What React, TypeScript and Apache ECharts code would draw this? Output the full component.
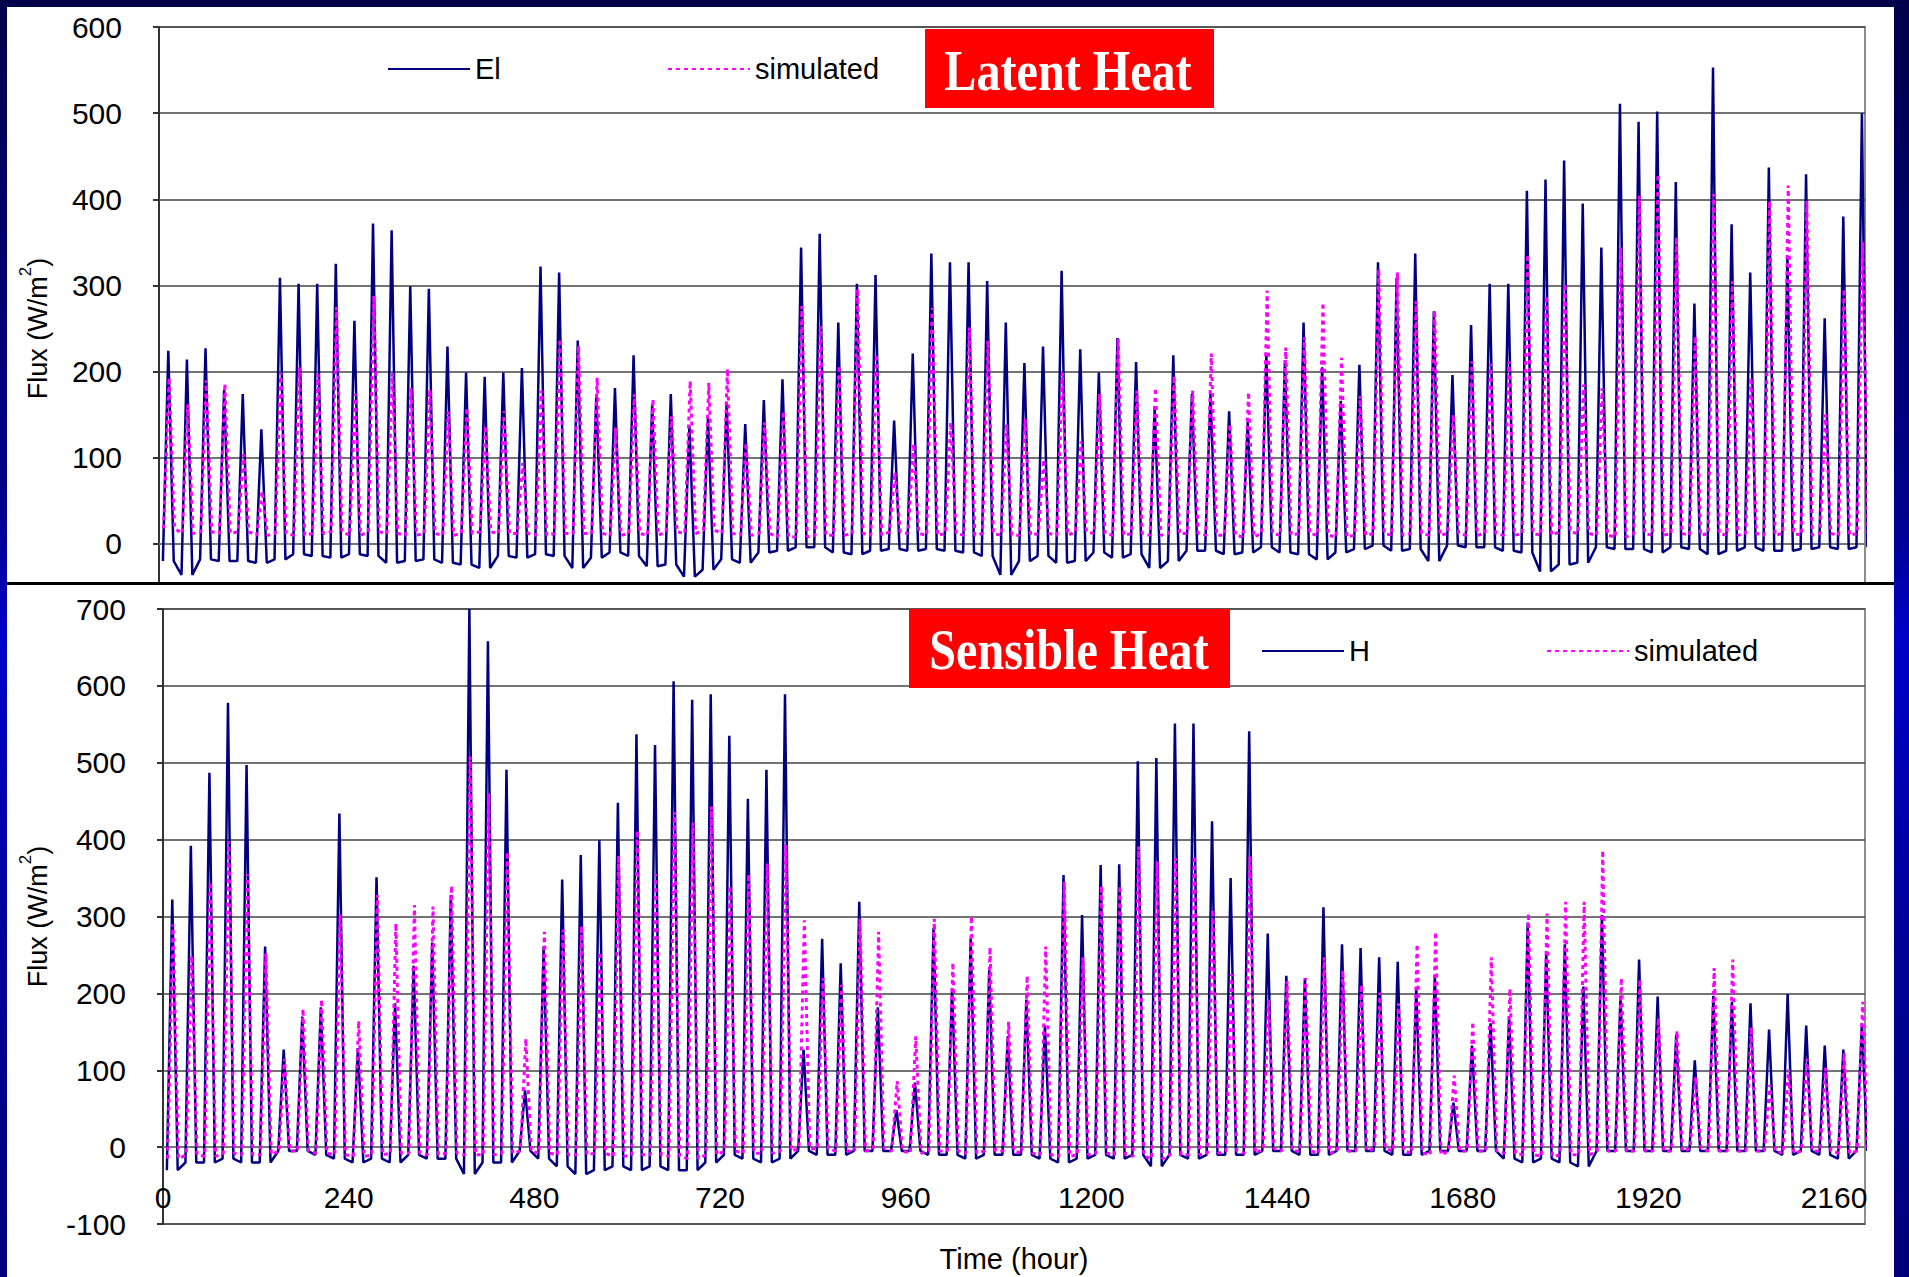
import React, { useEffect, useRef } from "react";
import * as echarts from "echarts";

// ---- data (one value per day) ----
// Latent heat: measured (El) and simulated daily peaks and night levels, W/m2
const elPeaks = [
  224, 214, 227, 179, 174, 133, 309, 302, 302, 325, 259, 372, 364, 299, 296, 229, 199, 194, 199, 204, 322, 315, 236,
  172, 181, 219, 162, 174, 137, 146, 164, 139, 167, 191, 344, 360, 257, 302, 312, 143, 221, 337, 327, 327, 305, 257,
  210, 229, 317, 226, 199, 239, 211, 159, 219, 174, 174, 154, 142, 219, 213, 257, 205, 166, 208, 327, 309, 337, 270,
  196, 254, 302, 302, 410, 423, 445, 395, 344, 511, 490, 502, 420, 279, 553, 371, 315, 437, 333, 429, 262, 380, 500,
];
const elNights = [
  -20, -36, -18, -20, -20, -22, -18, -12, -14, -16, -12, -14, -22, -20, -18, -22, -24, -28, -14, -16, -12, -14, -28,
  -16, -10, -14, -26, -24, -38, -30, -18, -22, -10, -8, -4, -4, -10, -12, -8, -6, -8, -6, -8, -10, -14, -36,
  -20, -14, -22, -20, -10, -16, -12, -28, -20, -8, -8, -12, -10, -4, -10, -12, -18, -10, -6, -2, -8, -6, -20,
  -2, -4, -4, -8, -10, -32, -24, -22, -4, -6, -6, -10, -4, -6, -12, -8, -4, -8, -8, -6, -4, -6, -4,
];
const leSimPeaks = [
  193, 162, 190, 186, 104, 61, 199, 205, 197, 275, 174, 288, 198, 181, 179, 154, 158, 137, 154, 94, 178, 238, 230,
  193, 135, 174, 168, 148, 189, 187, 203, 117, 141, 154, 276, 253, 207, 296, 220, 83, 116, 274, 141, 251, 236, 139,
  145, 98, 199, 119, 174, 238, 178, 181, 195, 178, 221, 139, 176, 294, 228, 240, 280, 216, 172, 319, 315, 282, 271,
  150, 212, 209, 212, 336, 288, 302, 185, 181, 344, 404, 429, 356, 241, 406, 305, 193, 398, 416, 398, 150, 296, 350,
];
const leSimNights = [
  18, 12, 14, 12, 14, 10, 12, 10, 12, 14, 10, 14, 12, 10, 12, 10, 12, 14, 12, 12, 10, 12, 12,
  12, 10, 12, 10, 14, 12, 16, 12, 10, 12, 8, 8, 10, 10, 12, 10, 14, 12, 10, 12, 10, 12, 10,
  10, 12, 10, 14, 12, 10, 12, 10, 12, 12, 10, 10, 8, 12, 10, 12, 10, 8, 10, 12, 10, 12, 10,
  12, 10, 12, 10, 12, 10, 14, 12, 10, 8, 12, 10, 12, 10, 12, 10, 12, 10, 12, 10, 12, 10, 12,
];
// Sensible heat: measured (H) and simulated
const hPeaks = [
  322, 392, 487, 578, 497, 261, 127, 170, 182, 434, 129, 351, 187, 236, 266, 328, 700, 658, 491, 74, 261, 348, 380,
  399, 448, 537, 523, 606, 582, 589, 535, 453, 491, 589, 127, 271, 239, 319, 182, 48, 84, 285, 206, 271, 230, 144,
  192, 158, 354, 302, 367, 368, 502, 506, 551, 551, 424, 350, 541, 278, 223, 220, 312, 264, 259, 247, 241, 206, 224,
  58, 132, 161, 170, 292, 254, 264, 209, 302, 197, 244, 196, 146, 113, 197, 189, 187, 153, 199, 158, 132, 127, 161,
];
const hNights = [
  -30, -20, -20, -15, -20, -20, -5, -5, -10, -15, -20, -15, -20, -10, -15, -15, -35, -20, -20, -5, -15, -25, -35,
  -30, -25, -30, -25, -30, -30, -20, -10, -15, -20, -15, -5, -10, -10, -5, -5, -5, -5, -10, -10, -15, -10, -10,
  -10, -15, -20, -15, -10, -15, -10, -25, -10, -15, -10, -10, -10, -5, -5, -10, -10, -5, -5, -5, -10, -10, -5,
  -5, -5, -5, -15, -20, -15, -20, -25, -5, -5, -5, -5, -5, -5, -5, -5, -5, -5, -10, -5, -10, -15, -5,
];
const hSimPeaks = [
  290, 249, 345, 398, 355, 252, 115, 180, 192, 303, 164, 328, 291, 315, 313, 340, 508, 460, 384, 141, 280, 283, 288,
  254, 379, 412, 355, 436, 422, 443, 340, 355, 369, 393, 295, 220, 211, 297, 280, 86, 144, 297, 240, 300, 260, 163,
  223, 261, 345, 247, 340, 340, 391, 372, 376, 379, 309, 225, 379, 192, 216, 220, 247, 230, 211, 201, 187, 264, 280,
  93, 163, 247, 206, 304, 304, 319, 319, 386, 220, 218, 168, 151, 91, 233, 244, 156, 81, 101, 115, 103, 122, 189,
];
const hSimNights = [
  -15, -10, -12, -8, -10, -10, -5, -5, -8, -10, -12, -10, -8, -8, -10, -8, -10, -10, -8, -5, -8, -10, -10,
  -8, -12, -10, -10, -12, -15, -10, -5, -8, -8, -5, -2, -2, -5, -5, -2, -5, -8, -5, -5, -8, -5, -5,
  -8, -10, -12, -10, -8, -10, -12, -15, -10, -10, -8, -5, -8, -2, -5, -5, -8, -5, -5, -2, -5, -8, -10,
  -5, -5, -5, -8, -10, -12, -10, -10, -5, -5, -5, -5, -5, -2, -5, -5, -5, -5, -8, -5, -5, -8, -5,
];
// hours of the day at which the night level ends, peak occurs, night level resumes
const dayHours = [5, 12, 19];

const FONT = "'Liberation Sans', Arial, sans-serif";
const SERIF = "'Liberation Serif', 'Times New Roman', serif";
const NAVY = "#000080";
const MAGENTA = "#ff00ff";
const Y_MIN = -100;

function buildSeries(peaks: number[], nights: number[], shift: number) {
  const out: number[][] = [];
  peaks.forEach((p, d) => {
    out.push([d * 24 + dayHours[0] + shift, nights[d]]);
    out.push([d * 24 + dayHours[1] + shift, p]);
    out.push([d * 24 + dayHours[2] + shift, nights[d]]);
  });
  return out;
}

function panelOption(o: {
  grid: any;
  height: number;
  yMax: number;
  showMinLabel: boolean;
  nameGap: number;
  showXName: boolean;
  obsName: string;
  obs: number[][];
  sim: number[][];
  legendTop: number;
  legendObsLeft: number;
  legendSimLeft: number;
  box: { x: number; y: number; w: number; h: number; text: string; cx: number; cy: number };
}) {
  const legendBase = {
    orient: "horizontal",
    top: o.legendTop,
    padding: 0,
    itemWidth: 82,
    itemHeight: 14,
    itemGap: 0,
    itemStyle: { opacity: 0 },
    textStyle: { fontSize: 29, fontFamily: FONT, color: "#000", lineHeight: 30 },
  };
  // x axis sits on the zero line: shift it up from the plot bottom
  const plotH = o.height - o.grid.top - o.grid.bottom;
  const zeroOffset = -(plotH * (0 - Y_MIN)) / (o.yMax - Y_MIN);
  return {
    animation: false,
    backgroundColor: "transparent",
    grid: {
      ...o.grid,
      show: true,
      borderColor: "#8c8c8c",
      borderWidth: 2,
      backgroundColor: "transparent",
      containLabel: false,
      outerBoundsMode: "none",
    },
    legend: [
      { ...legendBase, left: o.legendObsLeft, data: [o.obsName] },
      { ...legendBase, left: o.legendSimLeft, data: ["simulated"] },
    ],
    xAxis: {
      type: "value",
      position: "bottom",
      offset: zeroOffset,
      min: 0,
      max: 2200,
      interval: 240,
      axisLine: { show: true, onZero: false, lineStyle: { color: "#777", width: 2 } },
      axisTick: { show: false },
      splitLine: { show: false },
      axisLabel: {
        fontSize: 30,
        fontFamily: FONT,
        color: "#000",
        margin: 35,
        showMaxLabel: false,
        formatter: (v: number) => String(v),
      },
      name: o.showXName ? "Time (hour)" : "",
      nameLocation: "middle",
      nameGap: 97,
      nameTextStyle: { fontSize: 29, fontFamily: FONT, color: "#000" },
    },
    yAxis: {
      type: "value",
      min: Y_MIN,
      max: o.yMax,
      interval: 100,
      axisLine: { show: true, onZero: false, lineStyle: { color: "#333", width: 2 } },
      axisTick: { show: true, length: 6, lineStyle: { color: "#333", width: 2 } },
      splitLine: { show: true, lineStyle: { color: "#444", width: 1.5 } },
      axisLabel: {
        fontSize: 30,
        fontFamily: FONT,
        color: "#000",
        margin: 37,
        showMinLabel: o.showMinLabel,
        formatter: (v: number) => String(v),
      },
      name: "{t|Flux (W/m}{s|2}{t|)}",
      nameLocation: "middle",
      nameGap: o.nameGap,
      nameRotate: 90,
      nameTextStyle: {
        rich: {
          t: { fontSize: 27, fontFamily: FONT, color: "#000", lineHeight: 34, verticalAlign: "bottom" },
          s: { fontSize: 17, fontFamily: FONT, color: "#000", lineHeight: 20, verticalAlign: "top" },
        },
      },
    },
    graphic: [
      {
        type: "rect",
        shape: { x: o.box.x, y: o.box.y, width: o.box.w, height: o.box.h },
        style: { fill: "#ff0000" },
        z: 100,
      },
      {
        type: "text",
        x: o.box.cx,
        y: o.box.cy,
        scaleX: 0.83,
        z: 101,
        style: {
          text: o.box.text,
          x: 0,
          y: 0,
          fill: "#ffffff",
          font: `bold 58px ${SERIF}`,
          textAlign: "center",
          textVerticalAlign: "middle",
        },
      },
    ],
    series: [
      {
        name: o.obsName,
        type: "line",
        data: o.obs,
        symbol: "none",
        silent: true,
        lineStyle: { color: NAVY, width: 2.5 },
        itemStyle: { color: NAVY },
      },
      {
        name: "simulated",
        type: "line",
        data: o.sim,
        symbol: "none",
        silent: true,
        lineStyle: { color: MAGENTA, width: 3, type: [4, 4] },
        itemStyle: { color: MAGENTA },
      },
    ],
  };
}

function Chart({ option, style }: { option: any; style: React.CSSProperties }) {
  const ref = useRef<HTMLDivElement>(null);
  useEffect(() => {
    if (!ref.current) return;
    const chart = echarts.init(ref.current, undefined, { renderer: "svg" });
    chart.setOption(option);
    return () => chart.dispose();
  }, [option]);
  return <div ref={ref} style={style} />;
}

const TOP_H = 653;
const BOTTOM_H = 692;

const topOption = panelOption({
  grid: { left: 152, right: 29, top: 20, bottom: 30 },
  height: TOP_H,
  yMax: 600,
  showMinLabel: false,
  nameGap: 108,
  showXName: false,
  obsName: "El",
  obs: buildSeries(elPeaks, elNights, 0),
  sim: buildSeries(leSimPeaks, leSimNights, 1),
  legendTop: 47,
  legendObsLeft: 380,
  legendSimLeft: 660,
  box: { x: 918, y: 22, w: 289, h: 79, text: "Latent Heat", cx: 1061, cy: 64 },
});

const bottomOption = panelOption({
  grid: { left: 156, right: 29, top: 24, bottom: 53 },
  height: BOTTOM_H,
  yMax: 700,
  showMinLabel: true,
  nameGap: 112,
  showXName: true,
  obsName: "H",
  obs: buildSeries(hPeaks, hNights, 0),
  sim: buildSeries(hSimPeaks, hSimNights, 1),
  legendTop: 51,
  legendObsLeft: 1254,
  legendSimLeft: 1539,
  box: { x: 902, y: 24, w: 321, h: 79, text: "Sensible Heat", cx: 1062, cy: 65 },
});

export default function App() {
  return (
    <div
      style={{
        position: "fixed",
        left: 0,
        top: 0,
        width: 1909,
        height: 1277,
        overflow: "hidden",
        background: "linear-gradient(180deg, #00004a 0%, #00008c 40%, #0000c8 50%, #000096 75%, #00007a 100%)",
      }}
    >
      <div style={{ position: "absolute", left: 7, top: 7, width: 1887, height: TOP_H, background: "#fff" }}>
        <Chart option={topOption} style={{ width: 1887, height: TOP_H }} />
      </div>
      <div
        style={{
          position: "absolute",
          left: 7,
          top: 582,
          width: 1887,
          height: 3,
          background: "#000",
          zIndex: 2,
        }}
      />
      <div
        style={{
          position: "absolute",
          left: 7,
          top: 585,
          width: 1887,
          height: BOTTOM_H,
          background: "#fff",
          zIndex: 2,
        }}
      >
        <Chart option={bottomOption} style={{ width: 1887, height: BOTTOM_H }} />
      </div>
    </div>
  );
}
